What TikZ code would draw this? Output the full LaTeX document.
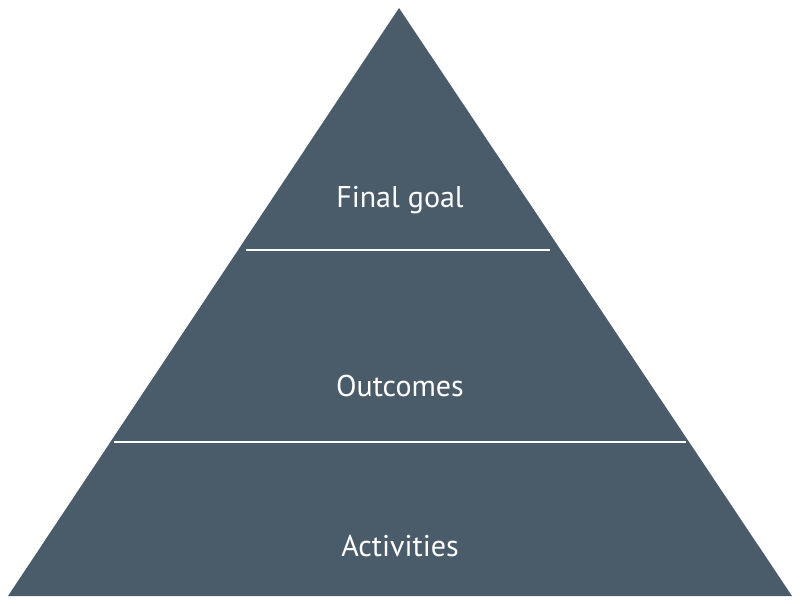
\documentclass[tikz,border=0pt]{standalone}
\usepackage{fontspec}
\setmainfont{PT Sans}
\definecolor{pyr}{HTML}{4A5B6A}
\begin{document}
\begin{tikzpicture}[x=1pt,y=-1pt,
  lbl/.style={text=white,font=\fontsize{30}{36}\selectfont},
  sep/.style={draw=white,line width=2.5pt}]
\useasboundingbox (0,0) rectangle (800,603);
\fill[pyr] (399,8) -- (792,596) -- (8,596) -- cycle;
\coordinate (a1) at (246,250); \coordinate (b1) at (550,250);
\coordinate (a2) at (114,442); \coordinate (b2) at (686,442);
\draw[sep] (a1) -- (b1);
\draw[sep] (a2) -- (b2);
\node[lbl] (g) at (400,200) {Final goal};
\node[lbl] (o) at (400,386) {Outcomes};
\node[lbl] (ac) at (400,546) {Activities};
\end{tikzpicture}
\end{document}
